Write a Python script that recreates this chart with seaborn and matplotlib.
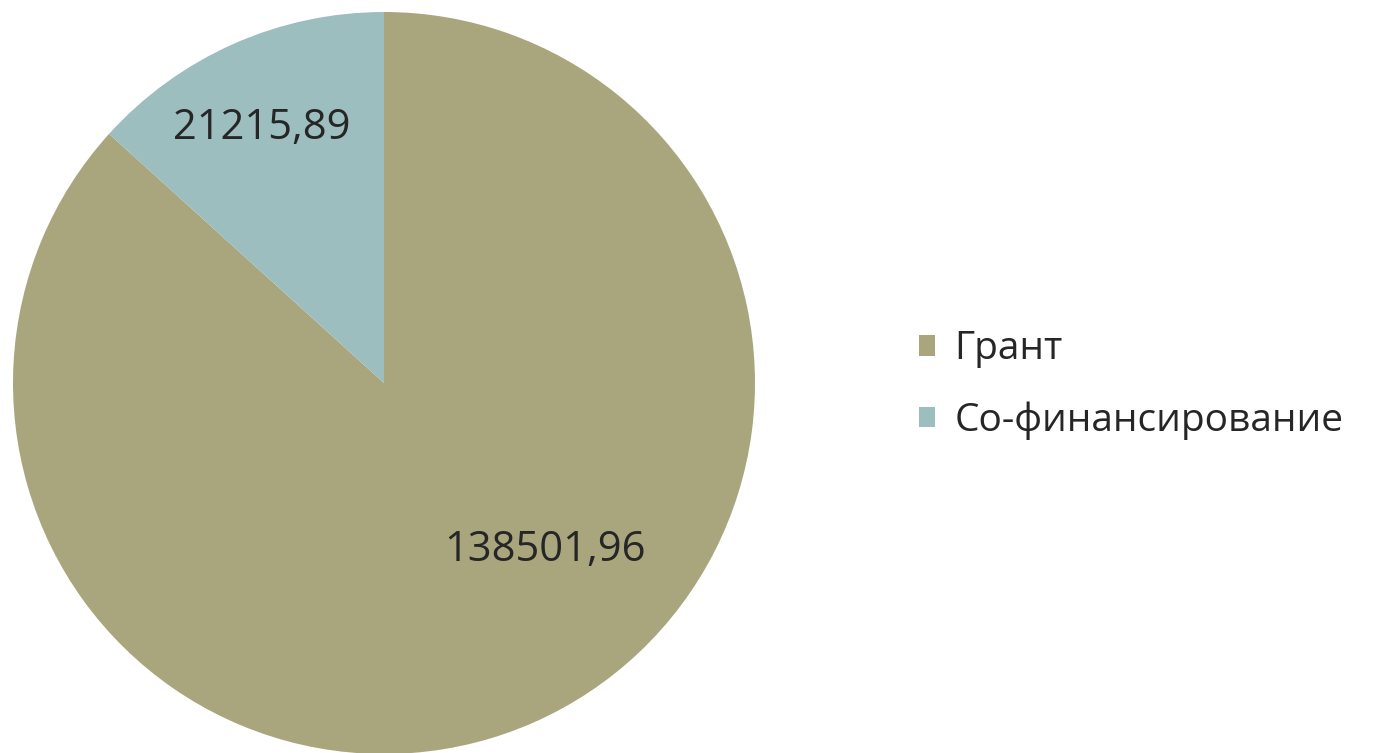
# круговая диаграмма: грант и софинансирование

import matplotlib
matplotlib.use("Agg")
import matplotlib.pyplot as plt
import seaborn as sns

# данные
categories = ["Грант", "Со-финансирование"]
values = [138501.96, 21215.89]
value_labels = ["138501,96", "21215,89"]

COLORS = ["#a9a67e", "#9dbebf"]
TEXT_COLOR = "#262626"

sns.set_theme(style="white")
plt.rcParams["font.family"] = ["Open Sans", "DejaVu Sans"]

fig = plt.figure(figsize=(13.79, 7.53), dpi=100)
fig.patch.set_facecolor("white")

# оси под круг: центр (384, 383), радиус ~371 px
cx, cy, r = 384, 383, 371
ax = fig.add_axes([(cx - r) / 1379, (753 - cy - r) / 753, 2 * r / 1379, 2 * r / 753])

wedges, texts, autotexts = ax.pie(
    values, colors=COLORS, startangle=90, counterclock=False,
    autopct="%1.1f", pctdistance=0.6,
    wedgeprops=dict(linewidth=0),
)
ax.set_xlim(-1, 1)
ax.set_ylim(-1, 1)
ax.set_aspect("equal")
ax.axis("off")

# подписи значений, положение как в исходнике (best fit)
label_pos = [(0.434, -0.450), (-0.329, 0.687)]
for t, txt, pos in zip(autotexts, value_labels, label_pos):
    t.set_text(txt)
    t.set_position(pos)
    t.set_fontsize(30)
    t.set_color(TEXT_COLOR)
    t.set_ha("center")
    t.set_va("center")

leg = fig.legend(
    wedges, categories, loc="center left", bbox_to_anchor=(903 / 1379, 1 - 385 / 753),
    frameon=False, fontsize=28, handlelength=0.43, handleheight=0.43,
    handletextpad=0.5, labelspacing=0.85, borderaxespad=0,
)
for t in leg.get_texts():
    t.set_color(TEXT_COLOR)

plt.savefig("out.png", dpi=100)
plt.close()
print("[OK] out.png")
